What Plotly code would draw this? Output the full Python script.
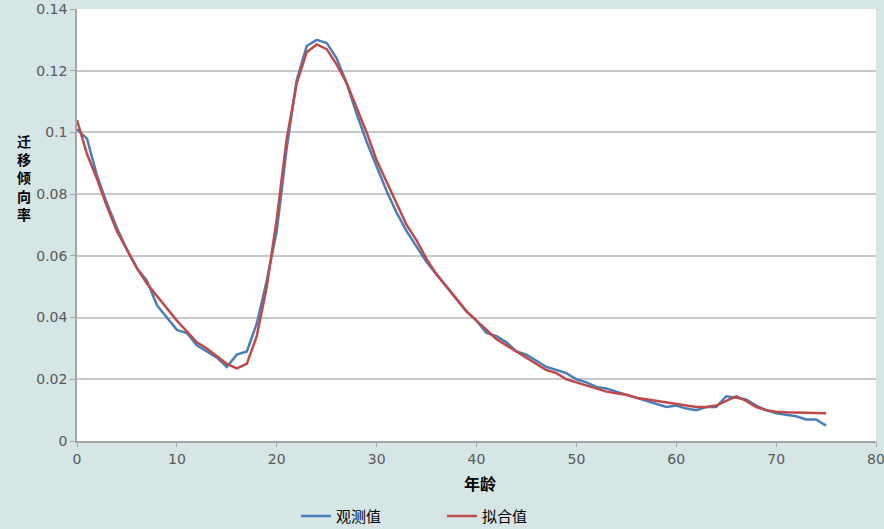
import plotly.graph_objects as go

# eta (anni)
eta = list(range(0, 76))

# valori osservati
osservati = [
    0.101, 0.098, 0.086, 0.077, 0.069, 0.062, 0.056, 0.052, 0.044, 0.040,
    0.036, 0.035, 0.031, 0.029, 0.027, 0.024, 0.028, 0.029, 0.038, 0.052,
    0.068, 0.095, 0.117, 0.128, 0.130, 0.129, 0.124, 0.116, 0.106, 0.097,
    0.089, 0.081, 0.074, 0.068, 0.063, 0.058, 0.054, 0.050, 0.046, 0.042,
    0.039, 0.035, 0.034, 0.032, 0.029, 0.028, 0.026, 0.024, 0.023, 0.022,
    0.020, 0.019, 0.0175, 0.017, 0.016, 0.015, 0.014, 0.013, 0.012, 0.011,
    0.0115, 0.0105, 0.010, 0.011, 0.011, 0.0145, 0.014, 0.0135, 0.0115, 0.010,
    0.009, 0.0085, 0.008, 0.007, 0.007, 0.005,
]

# valori del modello
stimati = [
    0.104, 0.093, 0.085, 0.076, 0.068, 0.062, 0.056, 0.051, 0.047, 0.043,
    0.039, 0.0355, 0.032, 0.030, 0.0275, 0.025, 0.0235, 0.025, 0.034, 0.050,
    0.072, 0.098, 0.116, 0.126, 0.1285, 0.127, 0.122, 0.116, 0.108, 0.100,
    0.091, 0.084, 0.077, 0.070, 0.065, 0.059, 0.054, 0.050, 0.046, 0.042,
    0.039, 0.036, 0.033, 0.031, 0.029, 0.027, 0.025, 0.023, 0.022, 0.020,
    0.019, 0.018, 0.017, 0.016, 0.0155, 0.015, 0.014, 0.0135, 0.013, 0.0125,
    0.012, 0.0115, 0.011, 0.011, 0.0115, 0.013, 0.0145, 0.013, 0.011, 0.010,
    0.0095, 0.0093, 0.0092, 0.009, 0.009, 0.009,
]

nomi_serie = ["观测值", "拟合值"]
colori = ["#4a7ebb", "#be4b48"]
titolo_y = "迁移倾向率"
titolo_x = "年龄"

fig = go.Figure()

for nome, yy, col in zip(nomi_serie, [osservati, stimati], colori):
    fig.add_trace(go.Scatter(
        x=eta,
        y=yy,
        name=nome,
        mode="lines",
        line=dict(color=col, width=2.5),
    ))

fig.update_layout(
    width=884,
    height=529,
    margin=dict(l=77, r=8, t=9, b=88),
    paper_bgcolor="#d6e6e6",
    plot_bgcolor="white",
    font=dict(family="DejaVu Sans", size=14, color="#595959"),
    showlegend=True,
    legend=dict(
        orientation="h",
        x=0.274,
        xanchor="left",
        yref="container",
        y=0.024,
        yanchor="middle",
        font=dict(family="Noto Sans CJK SC", size=15, color="black"),
        itemwidth=30,
        entrywidth=101,
        bgcolor="rgba(0,0,0,0)",
    ),
    xaxis=dict(
        range=[0, 80],
        dtick=10,
        showgrid=False,
        showline=True,
        linecolor="#a6a6a6",
        linewidth=1.5,
        ticks="outside",
        ticklen=4,
        tickcolor="#a6a6a6",
        zeroline=False,
        automargin=False,
        ticklabeloverflow="allow",
    ),
    yaxis=dict(
        range=[0, 0.14],
        dtick=0.02,
        showgrid=True,
        gridcolor="#c8c8c8",
        gridwidth=1.5,
        showline=True,
        linecolor="#a6a6a6",
        linewidth=1.5,
        ticks="outside",
        ticklen=5,
        tickcolor="#a6a6a6",
        zeroline=False,
        automargin=False,
        ticklabeloverflow="allow",
    ),
    annotations=[
        dict(
            text="<b>" + titolo_x + "</b>",
            xref="paper", yref="paper",
            x=0.504, y=-0.097,
            xanchor="center", yanchor="middle",
            showarrow=False,
            font=dict(family="Noto Sans CJK SC", size=16, color="black"),
        ),
        dict(
            # titolo asse y: un carattere sotto l'altro
            text="<b>" + "<br>".join(titolo_y) + "</b>",
            xref="paper", yref="paper",
            x=-0.066, y=0.609,
            xanchor="center", yanchor="middle",
            showarrow=False,
            font=dict(family="Noto Sans CJK SC", size=14, color="black"),
        ),
    ],
)

# niente margine del body, la figura parte dall'angolo
fig.write_html(
    "out.html",
    config={"displayModeBar": False},
    post_script="document.body.style.margin='0';",
)
